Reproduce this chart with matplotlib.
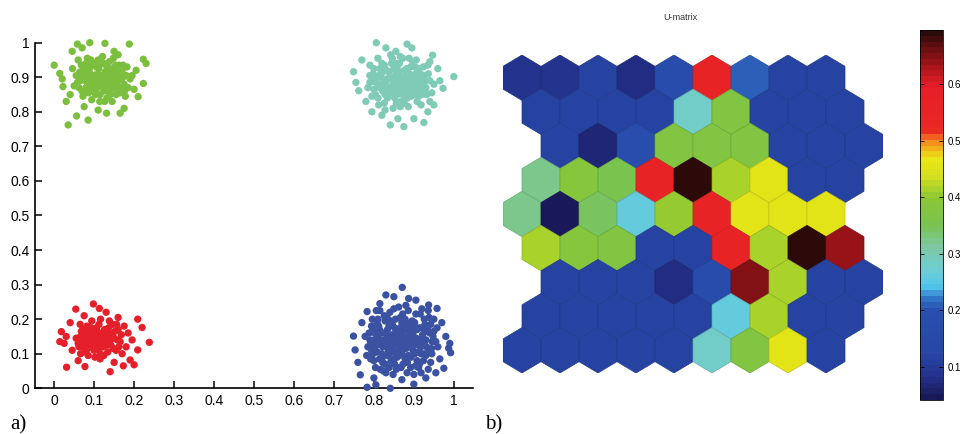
import numpy as np
import matplotlib
matplotlib.use("Agg")
import matplotlib.pyplot as plt
from matplotlib.patches import RegularPolygon
from matplotlib.collections import PatchCollection
from matplotlib.colors import LinearSegmentedColormap, Normalize
from matplotlib.cm import ScalarMappable

# ---------------- a) quatro grupos de pontos ----------------
verde = [
    (0.000, 0.935), (0.035, 0.762), (0.058, 0.996), (0.089, 1.000), (0.127, 0.998),
    (0.188, 0.996), (0.085, 0.776), (0.056, 0.788), (0.230, 0.940), (0.223, 0.952),
    (0.210, 0.844), (0.165, 0.796), (0.131, 0.796), (0.223, 0.882), (0.014, 0.911),
    (0.022, 0.873), (0.030, 0.830), (0.045, 0.975), (0.070, 0.985), (0.150, 0.975),
    (0.205, 0.920), (0.200, 0.865), (0.175, 0.810), (0.110, 0.805), (0.075, 0.815),
    (0.040, 0.850), (0.020, 0.895), (0.195, 0.905), (0.160, 0.965),
    (0.055, 0.905), (0.062, 0.870), (0.068, 0.935), (0.072, 0.845), (0.078, 0.890),
    (0.083, 0.955), (0.086, 0.915), (0.090, 0.860), (0.094, 0.835), (0.097, 0.880),
    (0.100, 0.940), (0.104, 0.905), (0.108, 0.870), (0.112, 0.925), (0.115, 0.850),
    (0.118, 0.895), (0.121, 0.960), (0.125, 0.875), (0.128, 0.915), (0.132, 0.840),
    (0.135, 0.900), (0.138, 0.945), (0.142, 0.865), (0.146, 0.925), (0.150, 0.885),
    (0.155, 0.850), (0.158, 0.910), (0.163, 0.935), (0.167, 0.870), (0.172, 0.900),
    (0.178, 0.845), (0.182, 0.930), (0.060, 0.950), (0.065, 0.890), (0.075, 0.925),
    (0.080, 0.870), (0.088, 0.895), (0.092, 0.950), (0.096, 0.905), (0.102, 0.860),
    (0.106, 0.930), (0.110, 0.890), (0.114, 0.830), (0.120, 0.875), (0.124, 0.940),
    (0.130, 0.895), (0.136, 0.860), (0.140, 0.910), (0.145, 0.830), (0.148, 0.955),
    (0.152, 0.870), (0.160, 0.890), (0.170, 0.920), (0.175, 0.880), (0.185, 0.870),
    (0.050, 0.875), (0.046, 0.925), (0.190, 0.895),
    (0.058, 0.885), (0.064, 0.915), (0.070, 0.860), (0.074, 0.905), (0.080, 0.940),
    (0.084, 0.880), (0.088, 0.925), (0.092, 0.870), (0.096, 0.935), (0.100, 0.885),
    (0.104, 0.850), (0.108, 0.910), (0.112, 0.875), (0.116, 0.940), (0.120, 0.905),
    (0.124, 0.860), (0.128, 0.895), (0.132, 0.930), (0.136, 0.880), (0.140, 0.850),
    (0.144, 0.895), (0.148, 0.920), (0.152, 0.905), (0.156, 0.875), (0.160, 0.920),
    (0.164, 0.855), (0.168, 0.895), (0.172, 0.935), (0.176, 0.860), (0.180, 0.905),
    (0.098, 0.895), (0.118, 0.880), (0.134, 0.915), (0.086, 0.855), (0.142, 0.880),
    (0.110, 0.950), (0.126, 0.830), (0.090, 0.910), (0.154, 0.935), (0.070, 0.900),
]

ciano = [
    (0.806, 1.000), (0.883, 0.996), (1.000, 0.902), (0.973, 0.868), (0.947, 0.964),
    (0.950, 0.820), (0.925, 0.769), (0.875, 0.757), (0.841, 0.762), (0.795, 0.800),
    (0.762, 0.861), (0.749, 0.916), (0.770, 0.950), (0.895, 0.985), (0.855, 0.975),
    (0.830, 0.985), (0.960, 0.925), (0.935, 0.800), (0.900, 0.780), (0.860, 0.780),
    (0.820, 0.790), (0.780, 0.830), (0.755, 0.885), (0.790, 0.935), (0.965, 0.890),
    (0.940, 0.945),
    (0.785, 0.870), (0.790, 0.905), (0.795, 0.845), (0.800, 0.925), (0.805, 0.885),
    (0.810, 0.955), (0.812, 0.820), (0.818, 0.900), (0.822, 0.860), (0.826, 0.935),
    (0.830, 0.880), (0.834, 0.840), (0.838, 0.915), (0.842, 0.965), (0.845, 0.870),
    (0.848, 0.810), (0.852, 0.895), (0.855, 0.940), (0.858, 0.850), (0.862, 0.915),
    (0.865, 0.875), (0.868, 0.830), (0.872, 0.955), (0.875, 0.900), (0.878, 0.860),
    (0.882, 0.925), (0.886, 0.815), (0.890, 0.885), (0.893, 0.845), (0.897, 0.945),
    (0.900, 0.905), (0.905, 0.865), (0.908, 0.830), (0.912, 0.925), (0.916, 0.885),
    (0.920, 0.850), (0.925, 0.905), (0.930, 0.870), (0.935, 0.935), (0.940, 0.890),
    (0.945, 0.855), (0.800, 0.865), (0.815, 0.925), (0.828, 0.805), (0.836, 0.895),
    (0.850, 0.925), (0.860, 0.880), (0.870, 0.900), (0.880, 0.845), (0.888, 0.955),
    (0.895, 0.870), (0.903, 0.930), (0.910, 0.890), (0.918, 0.820), (0.928, 0.860),
    (0.842, 0.855), (0.856, 0.825), (0.866, 0.960), (0.876, 0.825), (0.884, 0.905),
    (0.820, 0.875), (0.810, 0.840), (0.795, 0.890), (0.950, 0.880), (0.940, 0.830),
    (0.790, 0.885), (0.798, 0.910), (0.804, 0.850), (0.808, 0.900), (0.814, 0.870),
    (0.820, 0.940), (0.824, 0.890), (0.828, 0.850), (0.832, 0.920), (0.836, 0.860),
    (0.840, 0.900), (0.844, 0.940), (0.848, 0.880), (0.852, 0.840), (0.856, 0.910),
    (0.860, 0.860), (0.864, 0.940), (0.868, 0.890), (0.872, 0.850), (0.876, 0.920),
    (0.880, 0.880), (0.884, 0.840), (0.888, 0.910), (0.892, 0.930), (0.896, 0.890),
    (0.900, 0.850), (0.904, 0.910), (0.908, 0.875), (0.912, 0.845), (0.916, 0.910),
    (0.920, 0.870), (0.924, 0.930), (0.928, 0.890), (0.932, 0.850), (0.936, 0.910),
    (0.826, 0.825), (0.846, 0.955), (0.866, 0.815), (0.886, 0.870), (0.906, 0.950),
    (0.818, 0.880), (0.854, 0.870), (0.874, 0.875), (0.894, 0.905), (0.914, 0.860),
    (0.802, 0.895), (0.812, 0.905), (0.832, 0.895), (0.846, 0.900), (0.862, 0.900),
    (0.878, 0.895), (0.898, 0.895), (0.918, 0.895), (0.834, 0.870), (0.870, 0.870),
    (0.902, 0.880), (0.924, 0.875), (0.822, 0.915), (0.858, 0.925), (0.890, 0.860),
]

vermelho = [
    (0.238, 0.133), (0.220, 0.176), (0.209, 0.200), (0.209, 0.111), (0.200, 0.068),
    (0.031, 0.061), (0.054, 0.229), (0.098, 0.244), (0.113, 0.231), (0.018, 0.164),
    (0.014, 0.135), (0.140, 0.048), (0.173, 0.065), (0.190, 0.082), (0.077, 0.063),
    (0.060, 0.080), (0.045, 0.110), (0.030, 0.150), (0.040, 0.190), (0.075, 0.210),
    (0.130, 0.220), (0.160, 0.205), (0.185, 0.160), (0.180, 0.120), (0.150, 0.075),
    (0.115, 0.085), (0.085, 0.095), (0.065, 0.185), (0.025, 0.130), (0.195, 0.140),
    (0.055, 0.145), (0.062, 0.120), (0.068, 0.165), (0.072, 0.135), (0.078, 0.105),
    (0.082, 0.180), (0.086, 0.150), (0.090, 0.120), (0.094, 0.195), (0.097, 0.140),
    (0.100, 0.110), (0.104, 0.165), (0.108, 0.130), (0.112, 0.185), (0.115, 0.100),
    (0.118, 0.150), (0.122, 0.120), (0.126, 0.170), (0.130, 0.140), (0.134, 0.105),
    (0.138, 0.160), (0.142, 0.125), (0.146, 0.185), (0.150, 0.145), (0.155, 0.110),
    (0.160, 0.170), (0.165, 0.135), (0.170, 0.100), (0.175, 0.180), (0.088, 0.130),
    (0.096, 0.160), (0.106, 0.145), (0.112, 0.115), (0.120, 0.135), (0.128, 0.155),
    (0.140, 0.140), (0.076, 0.155), (0.066, 0.100), (0.102, 0.090), (0.124, 0.095),
    (0.060, 0.130), (0.066, 0.150), (0.070, 0.120), (0.074, 0.170), (0.080, 0.140),
    (0.084, 0.115), (0.088, 0.165), (0.092, 0.140), (0.098, 0.125), (0.102, 0.150),
    (0.106, 0.175), (0.110, 0.125), (0.114, 0.160), (0.118, 0.135), (0.124, 0.150),
    (0.132, 0.125), (0.136, 0.175), (0.144, 0.150), (0.148, 0.115), (0.152, 0.165),
    (0.158, 0.140), (0.162, 0.120), (0.168, 0.155), (0.092, 0.175), (0.116, 0.200),
    (0.080, 0.125), (0.104, 0.120), (0.126, 0.130), (0.138, 0.195), (0.156, 0.185),
]

azul = [
    (0.871, 0.292), (0.850, 0.265), (0.887, 0.260), (0.783, 0.003), (0.841, 0.000),
    (0.900, 0.012), (0.992, 0.103), (0.987, 0.116), (0.749, 0.151), (0.753, 0.111),
    (0.766, 0.039), (0.975, 0.058), (0.958, 0.231), (0.937, 0.241), (0.783, 0.222),
    (0.815, 0.245), (0.760, 0.075), (0.800, 0.030), (0.870, 0.025), (0.930, 0.030),
    (0.965, 0.085), (0.980, 0.150), (0.970, 0.190), (0.905, 0.255), (0.830, 0.270),
    (0.770, 0.190), (0.805, 0.010), (0.955, 0.045), (0.990, 0.130),
    (0.785, 0.120), (0.788, 0.160), (0.792, 0.085), (0.796, 0.200), (0.800, 0.140),
    (0.804, 0.060), (0.808, 0.105), (0.812, 0.180), (0.815, 0.225), (0.818, 0.130),
    (0.822, 0.075), (0.826, 0.160), (0.830, 0.045), (0.833, 0.205), (0.836, 0.110),
    (0.840, 0.145), (0.843, 0.080), (0.846, 0.185), (0.850, 0.230), (0.853, 0.125),
    (0.856, 0.055), (0.860, 0.165), (0.863, 0.095), (0.866, 0.205), (0.870, 0.140),
    (0.873, 0.070), (0.876, 0.180), (0.880, 0.115), (0.883, 0.045), (0.886, 0.225),
    (0.890, 0.155), (0.893, 0.090), (0.896, 0.195), (0.900, 0.130), (0.904, 0.065),
    (0.908, 0.170), (0.912, 0.105), (0.916, 0.215), (0.920, 0.145), (0.924, 0.080),
    (0.928, 0.185), (0.932, 0.120), (0.936, 0.055), (0.940, 0.160), (0.945, 0.100),
    (0.950, 0.200), (0.955, 0.135), (0.798, 0.170), (0.806, 0.225), (0.820, 0.100),
    (0.828, 0.195), (0.838, 0.060), (0.845, 0.120), (0.852, 0.175), (0.858, 0.090),
    (0.865, 0.130), (0.872, 0.215), (0.878, 0.085), (0.885, 0.150), (0.892, 0.060),
    (0.898, 0.160), (0.905, 0.215), (0.914, 0.070), (0.922, 0.175), (0.930, 0.095),
    (0.938, 0.205), (0.946, 0.135), (0.810, 0.150), (0.824, 0.050), (0.848, 0.040),
    (0.862, 0.235), (0.882, 0.190), (0.902, 0.100), (0.918, 0.045), (0.794, 0.110),
    (0.834, 0.170), (0.868, 0.060), (0.888, 0.120), (0.926, 0.125), (0.942, 0.075),
    (0.790, 0.140), (0.794, 0.180), (0.798, 0.100), (0.802, 0.160), (0.806, 0.125),
    (0.810, 0.200), (0.814, 0.085), (0.818, 0.160), (0.822, 0.120), (0.826, 0.210),
    (0.830, 0.140), (0.834, 0.095), (0.838, 0.180), (0.842, 0.120), (0.846, 0.155),
    (0.850, 0.085), (0.854, 0.200), (0.858, 0.140), (0.862, 0.110), (0.866, 0.175),
    (0.870, 0.100), (0.874, 0.150), (0.878, 0.200), (0.882, 0.135), (0.886, 0.095),
    (0.890, 0.180), (0.894, 0.140), (0.898, 0.110), (0.902, 0.190), (0.906, 0.145),
    (0.910, 0.125), (0.914, 0.175), (0.918, 0.100), (0.922, 0.155), (0.926, 0.200),
    (0.930, 0.140), (0.934, 0.170), (0.938, 0.110), (0.942, 0.185), (0.816, 0.055),
    (0.840, 0.220), (0.860, 0.060), (0.880, 0.240), (0.900, 0.040), (0.920, 0.230),
    (0.950, 0.165), (0.800, 0.080), (0.808, 0.190), (0.832, 0.125), (0.848, 0.105),
    (0.856, 0.165), (0.864, 0.150), (0.876, 0.120), (0.884, 0.170), (0.896, 0.125),
    (0.908, 0.080), (0.916, 0.135), (0.944, 0.115), (0.828, 0.070), (0.870, 0.190),
    (0.792, 0.130), (0.802, 0.115), (0.812, 0.135), (0.824, 0.140), (0.836, 0.150),
    (0.844, 0.135), (0.854, 0.150), (0.866, 0.120), (0.874, 0.135), (0.886, 0.130),
    (0.896, 0.145), (0.906, 0.130), (0.918, 0.120), (0.930, 0.165), (0.948, 0.150),
    (0.814, 0.170), (0.842, 0.195), (0.872, 0.165), (0.900, 0.175), (0.926, 0.100),
    (0.820, 0.085), (0.852, 0.070), (0.884, 0.075), (0.912, 0.060), (0.838, 0.100),
    (0.960, 0.120), (0.958, 0.175), (0.778, 0.150), (0.782, 0.095), (0.936, 0.225),
]

grupos = [(verde, "#7cbf3e"), (ciano, "#7fcbb6"), (vermelho, "#e5202a"), (azul, "#3b51a2")]
ticks_a = [0, 0.1, 0.2, 0.3, 0.4, 0.5, 0.6, 0.7, 0.8, 0.9, 1]
rotulos_a = ["0", "0.1", "0.2", "0.3", "0.4", "0.5", "0.6", "0.7", "0.8", "0.9", "1"]

# ---------------- b) U-matrix (9 linhas x 9 celulas) ----------------
umatriz = [
    [0.09, 0.09, 0.12, 0.08, 0.17, 0.56, 0.21, 0.12, 0.12],
    [0.12, 0.12, 0.12, 0.12, 0.28, 0.37, 0.12, 0.12, 0.12],
    [0.12, 0.07, 0.18, 0.37, 0.37, 0.37, 0.12, 0.12, 0.12],
    [0.32, 0.38, 0.35, 0.56, 0.69, 0.41, 0.46, 0.12, 0.12],
    [0.32, 0.04, 0.34, 0.26, 0.40, 0.56, 0.46, 0.46, 0.46],
    [0.41, 0.38, 0.37, 0.12, 0.12, 0.56, 0.41, 0.69, 0.64],
    [0.12, 0.12, 0.12, 0.08, 0.17, 0.65, 0.41, 0.12, 0.12],
    [0.12, 0.12, 0.12, 0.12, 0.12, 0.26, 0.41, 0.12, 0.12],
    [0.12, 0.12, 0.12, 0.12, 0.12, 0.28, 0.37, 0.46, 0.12],
]
deslocamento = [0, 0.5, 1, 0.5, 0, 0.5, 1, 0.5, 0]
ticks_b = [0.1, 0.2, 0.3, 0.4, 0.5, 0.6]
vmin, vmax = 0.041, 0.696

# paleta tipo "jet" desbotada
paleta_pos = [0.041, 0.08, 0.12, 0.20, 0.22, 0.24, 0.27, 0.31, 0.35, 0.40,
              0.44, 0.47, 0.50, 0.52, 0.60, 0.64, 0.696]
paleta_cor = ["#19195a", "#23328c", "#2846a5", "#2850af", "#3278c8", "#50c8eb",
              "#6ecdd2", "#7dc8a5", "#78c350", "#8cc832", "#d7e11e", "#ebe614",
              "#f58c1e", "#eb2823", "#e61e28", "#a01419", "#2d0a0a"]


def cria_paleta(pos, cores):
    p = [(v - pos[0]) / (pos[-1] - pos[0]) for v in pos]
    return LinearSegmentedColormap.from_list("umat", list(zip(p, cores))).resampled(64)


plt.rcParams["font.family"] = ["Liberation Sans", "DejaVu Sans"]
fig = plt.figure(figsize=(9.64, 4.34), dpi=100)

# --- painel a
ax = fig.add_axes([35 / 964, 1 - 388.3 / 434, 438 / 964, 345.6 / 434])
for pontos, cor in grupos:
    xy = np.array(pontos)
    ax.scatter(xy[:, 0], xy[:, 1], s=28, color=cor, edgecolors="none",
               zorder=3, clip_on=False)
ax.set_xlim(-0.048, 1.048)
ax.set_ylim(0, 1)
ax.set_xticks(ticks_a)
ax.set_xticklabels(rotulos_a)
ax.set_yticks(ticks_a)
ax.set_yticklabels(rotulos_a)
ax.spines["top"].set_visible(False)
ax.spines["right"].set_visible(False)
ax.spines["left"].set_linewidth(1.2)
ax.spines["bottom"].set_linewidth(1.2)
ax.tick_params(direction="in", length=5, width=1.1, labelsize=10, pad=4)

# --- painel b
cmap = cria_paleta(paleta_pos, paleta_cor)
norm = Normalize(vmin=vmin, vmax=vmax)
w = np.sqrt(3)
axh = fig.add_axes([503 / 964, 1 - 373 / 434, 380 / 964, 318 / 434])
hexs, faces, bordas = [], [], []
for i, linha in enumerate(umatriz):
    for j, val in enumerate(linha):
        cx = (j + deslocamento[i] + 0.5) * w
        cy = (8 - i) * 1.5 + 1
        hexs.append(RegularPolygon((cx, cy), numVertices=6, radius=1.0))
        rgba = np.array(cmap(norm(val)))
        faces.append(rgba)
        borda = rgba * 0.85
        borda[3] = 1
        bordas.append(borda)
col = PatchCollection(hexs, facecolors=faces, edgecolors=bordas, linewidths=0.5)
axh.add_collection(col)
axh.set_xlim(0, 10 * w)
axh.set_ylim(0, 14)
axh.axis("off")
fig.text(680 / 964, 1 - 18 / 434, "U-matrix", fontsize=6.5, color="#333333",
         ha="center", va="center")

# barra de cores
cax = fig.add_axes([920 / 964, 1 - 400 / 434, 23 / 964, 370 / 434])
cb = fig.colorbar(ScalarMappable(norm=norm, cmap=cmap), cax=cax)
cb.set_ticks(ticks_b)
cb.set_ticklabels([str(t) for t in ticks_b])
cb.outline.set_linewidth(0.6)
cax.tick_params(direction="in", length=3, width=0.6, labelsize=7, pad=3,
                left=True, right=True, labelleft=False, labelright=True)

fig.text(10 / 964, 1 - 425 / 434, "a)", fontsize=15, family="Liberation Serif",
         va="center")
fig.text(485 / 964, 1 - 425 / 434, "b)", fontsize=15, family="Liberation Serif",
         va="center")

fig.savefig("out.png", dpi=100)
